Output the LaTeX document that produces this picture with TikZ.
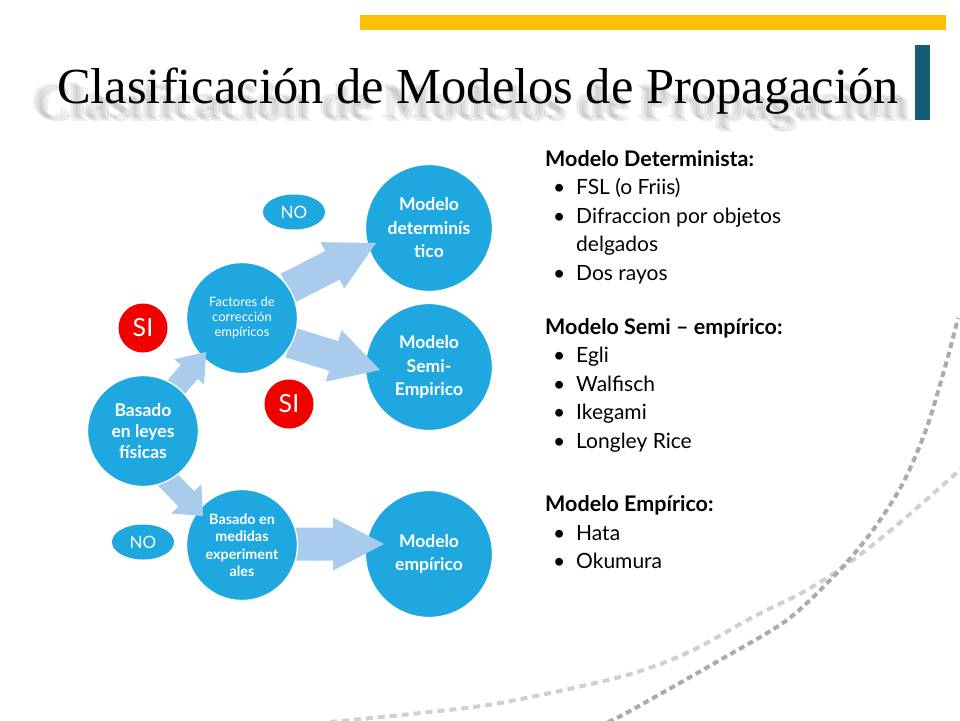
\documentclass[tikz,border=0pt]{standalone}
\usepackage{fontspec}
\setmainfont{Lato}
\newfontfamily\titlefont{Liberation Serif}
\usetikzlibrary{calc,shapes.geometric}
\definecolor{circc}{HTML}{1FA8E0}
\definecolor{arrc}{HTML}{A9CCEC}
\definecolor{redc}{HTML}{F20000}
\definecolor{yellc}{HTML}{FFC000}
\definecolor{barc}{HTML}{135E76}
\definecolor{dashdark}{HTML}{ABABAB}
\definecolor{dashlight}{HTML}{D0D0D0}
\pgfdeclarelayer{bg}
\pgfdeclarelayer{lone}
\pgfdeclarelayer{ltwo}
\pgfdeclarelayer{lthree}
\pgfdeclarelayer{lfour}
\pgfsetlayers{bg,lone,ltwo,lthree,lfour,main}
\newcommand\blockarrow[5]{%
  \coordinate (ba-s) at #1;
  \coordinate (ba-t) at #2;
  \coordinate (ba-h) at ($(ba-t)!#5pt!(ba-s)$);
  \fill[arrowfill] ($(ba-s)!#3pt!90:(ba-t)$) -- ($(ba-h)!#3pt!90:(ba-t)$) -- ($(ba-h)!#4pt!90:(ba-t)$) -- (ba-t) -- ($(ba-h)!#4pt!-90:(ba-t)$) -- ($(ba-h)!#3pt!-90:(ba-t)$) -- ($(ba-s)!#3pt!-90:(ba-t)$) -- cycle;}
\newcommand\shadowtxt{Clasificación de Modelos de Propagación}
\newcommand\shcopy[2]{\rlap{\hspace*{#1pt}\raisebox{#2pt}{\shadowtxt}}}
\tikzset{
  bigc/.style={circle, fill=circc, draw=white, line width=1.3pt, minimum size=127pt, inner sep=0pt, text=white, align=center, font=\bfseries\fontsize{17.5}{23.5}\selectfont},
  midc/.style={circle, fill=circc, draw=white, line width=1.3pt, minimum size=111pt, inner sep=0pt, text=white, align=center},
  arrowfill/.style={fill=arrc},
  nolab/.style={ellipse, fill=circc, minimum width=62pt, minimum height=35pt, inner sep=0pt, text=white, font=\fontsize{17}{17}\selectfont},
  silab/.style={circle, fill=redc, minimum size=49pt, inner sep=0pt, text=white, font=\fontsize{25}{25}\selectfont},
  listtxt/.style={anchor=base west, inner sep=0pt, font=\fontsize{21}{21}\selectfont},
  listhead/.style={anchor=base west, inner sep=0pt, font=\bfseries\fontsize{21.5}{21.5}\selectfont},
  dasharc/.style={line width=4pt}
}
\begin{document}
\begin{tikzpicture}[x=1pt,y=-1pt]
\useasboundingbox (0,0) rectangle (960,720);
\begin{pgfonlayer}{bg}
\fill[white] (0,0) rectangle (960,720);
% decorative dashed arcs
\draw[dasharc, dashlight, dash pattern=on 7pt off 5pt] plot[smooth] coordinates {(330,722) (420,713) (500,703) (620,677) (687,653) (753,617) (807,590) (853,560) (903,520) (962,468)};
\draw[dasharc, dashdark, dash pattern=on 6pt off 4pt] plot[smooth] coordinates {(608,722) (630,711) (720,660) (787,620) (837,573) (873,530) (903,483) (927,427) (947,360) (958,318)};
\end{pgfonlayer}
% decorative bars
\fill[yellc] (360,15) rectangle (946,30);
\fill[barc] (915,45) rectangle (930,120);
% title shadow (blurred)
\node[anchor=base west, inner sep=0pt, text=black, text opacity=0.07, font=\titlefont\bfseries\fontsize{50}{50}\selectfont] (tshadow) at (34,119)
  {\shcopy{0}{0}\shcopy{-3}{2}\shcopy{3}{-2}\phantom{\shadowtxt}};
\node[anchor=base west, inner sep=0pt] (title) at (57,103) {\titlefont\fontsize{50.5}{50}\selectfont Clasificación de Modelos de Propagación};
% circles
\begin{pgfonlayer}{lone}
\node[bigc] (det) at (429,228) {Modelo\\determinís\\tico};
\node[bigc] (semi) at (429,367) {Modelo\\Semi-\\Empirico};
\node[bigc] (emp) at (429,554) {Modelo\\empírico};
\end{pgfonlayer}
\begin{pgfonlayer}{lthree}
\node[midc, font=\fontsize{13}{15}\selectfont] (fact) at (242,318) {Factores de\\corrección\\empíricos};
\node[midc, font=\bfseries\fontsize{14.3}{17.5}\selectfont] (med) at (242,545) {Basado en\\medidas\\experiment\\ales};
\end{pgfonlayer}
\node[midc, font=\bfseries\fontsize{17.5}{21}\selectfont] (bas) at (143,431) {Basado\\en leyes\\físicas};
% arrows
\begin{pgfonlayer}{ltwo}
\blockarrow{($(fact)+(46,-30)$)}{($(det)+(-53,15)$)}{16}{26}{49}
\blockarrow{($(fact)+(48,24.5)$)}{($(semi)+(-49,3)$)}{15.5}{27}{48.5}
\blockarrow{($(med)+(50,-1)$)}{($(emp)+(-45,-10)$)}{16.5}{26.5}{51}
\end{pgfonlayer}
\begin{pgfonlayer}{lfour}
\blockarrow{($(bas)+(30,-40)$)}{($(fact)+(-36,34)$)}{11}{19.5}{26}
\blockarrow{($(bas)+(23,47)$)}{($(med)+(-39,-29)$)}{11}{21}{24}
\end{pgfonlayer}
% labels
\node[nolab] (no1) at (294,212) {NO};
\node[nolab] (no2) at (143,542) {NO};
\node[silab] (si1) at (143,328) {SI};
\node[silab] (si2) at (289,404) {SI};
% right text
\node[listhead] (h1) at (545,166) {Modelo Determinista:};
\node[listtxt] (b1) at (553,194.5) {•}; \node[listtxt] (t1) at (576,194.5) {FSL (o Friis)};
\node[listtxt] (b2) at (553,223) {•}; \node[listtxt] (t2) at (576,223) {Difraccion por objetos};
\node[listtxt] (t2b) at (576,251.5) {delgados};
\node[listtxt] (b3) at (553,280) {•}; \node[listtxt] (t3) at (576,280) {Dos rayos};
\node[listhead] (h2) at (545,334) {Modelo Semi – empírico:};
\node[listtxt] (b4) at (553,362.5) {•}; \node[listtxt] (t4) at (576,362.5) {Egli};
\node[listtxt] (b5) at (553,391) {•}; \node[listtxt] (t5) at (576,391) {Walfisch};
\node[listtxt] (b6) at (553,419.5) {•}; \node[listtxt] (t6) at (576,419.5) {Ikegami};
\node[listtxt] (b7) at (553,448) {•}; \node[listtxt] (t7) at (576,448) {Longley Rice};
\node[listhead] (h3) at (545,511) {Modelo Empírico:};
\node[listtxt] (b8) at (553,540) {•}; \node[listtxt] (t8) at (576,540) {Hata};
\node[listtxt] (b9) at (553,568) {•}; \node[listtxt] (t9) at (576,568) {Okumura};
\end{tikzpicture}
\end{document}
